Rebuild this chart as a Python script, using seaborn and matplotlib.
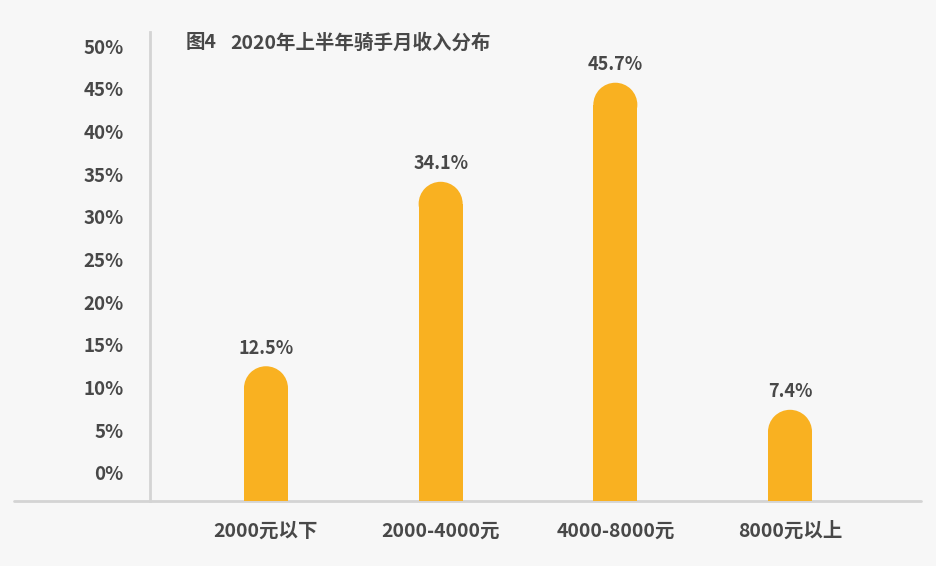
"""
Rider monthly income distribution, H1 2020 - rounded bar chart
"""
import matplotlib
matplotlib.use("Agg")
import matplotlib.pyplot as plt
import seaborn as sns

categories = ["2000元以下", "2000-4000元", "4000-8000元", "8000元以上"]
shares = [12.5, 34.1, 45.7, 7.4]
value_labels = ["12.5%", "34.1%", "45.7%", "7.4%"]
yticks = [0, 5, 10, 15, 20, 25, 30, 35, 40, 45, 50]
title_num = "图4"
title_txt = "2020年上半年骑手月收入分布"

BG = "#f7f7f7"
BAR = "#f9b121"
TEXT = "#484848"
AXIS = "#d4d4d4"

sns.set_theme(style="white")
plt.rcParams["font.family"] = ["Noto Sans CJK SC", "DejaVu Sans"]

W, H, DPI = 937, 566, 100
fig = plt.figure(figsize=(W / DPI, H / DPI), dpi=DPI, facecolor=BG)
ax_l, ax_r, ax_t, ax_b = 150, 921, 32, 501
ax = fig.add_axes([ax_l / W, 1 - ax_b / H, (ax_r - ax_l) / W, (ax_b - ax_t) / H])
ax.set_facecolor(BG)

ymin, ymax = -3.28, 51.64
xmin, xmax = -0.664, 3.75
bar_w = 0.252

sns.barplot(x=categories, y=shares, color=BAR, width=bar_w, saturation=1, ax=ax, zorder=2)
ax.set_xlim(xmin, xmax)
ax.set_ylim(ymin, ymax)
fig.canvas.draw()

# rounded tops: shorten each bar by the cap radius and put a circle on it
ext = ax.patches[0].get_window_extent()
r_px = ext.width / 2
px_per_y = ax.get_window_extent().height / (ymax - ymin)
r_y = r_px / px_per_y
for p, v in zip(ax.patches, shares):
    p.set_y(ymin)
    p.set_height(v - r_y - ymin)
    p.set_linewidth(0)
    p.set_edgecolor("none")
xs = [p.get_x() + p.get_width() / 2 for p in ax.patches]
ax.scatter(xs, [v - r_y for v in shares], s=(2 * r_px * 72 / DPI) ** 2,
           color=BAR, linewidths=0, edgecolors="none", zorder=3, clip_on=False)

for x, v, lab in zip(xs, shares, value_labels):
    ax.annotate(lab, (x, v), xytext=(0, 6), textcoords="offset points",
                ha="center", va="bottom", fontsize=13, fontweight="bold", color=TEXT)

ax.set_yticks(yticks)
ax.set_yticklabels([f"{t}%" for t in yticks])
ax.tick_params(axis="y", length=0, pad=19, labelsize=13.5, labelcolor=TEXT)
ax.tick_params(axis="x", length=0, pad=15, labelsize=14, labelcolor=TEXT)
for lab in ax.get_xticklabels() + ax.get_yticklabels():
    lab.set_fontweight("bold")

for s in ["top", "right", "bottom"]:
    ax.spines[s].set_visible(False)
ax.spines["left"].set_color(AXIS)
ax.spines["left"].set_linewidth(2)
ax.axhline(ymin, xmin=-(ax_l - 14) / (ax_r - ax_l), xmax=1, color=AXIS,
           linewidth=2, clip_on=False, zorder=1)
ax.set_xlabel("")
ax.set_ylabel("")

fig.text(186 / W, 1 - 43 / H, title_num, ha="left", va="center",
         fontsize=14, fontweight="bold", color=TEXT)
fig.text(230 / W, 1 - 43 / H, title_txt, ha="left", va="center",
         fontsize=14, fontweight="bold", color=TEXT)

fig.savefig("out.png", dpi=DPI, facecolor=BG)
